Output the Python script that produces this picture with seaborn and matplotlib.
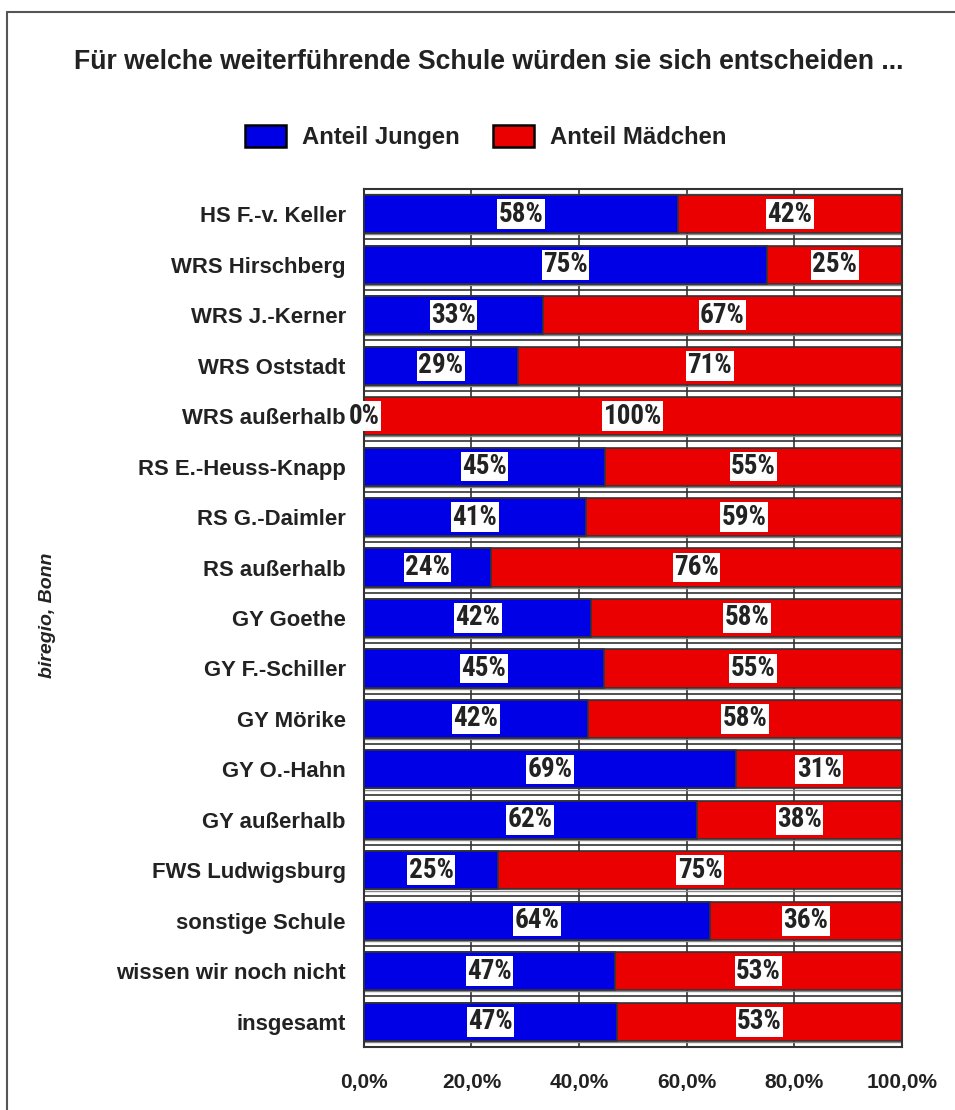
import numpy as np
import pandas as pd
import seaborn as sns
import matplotlib.pyplot as plt
from matplotlib.patches import Patch
from matplotlib.lines import Line2D

# Daten
schulen = ["HS F.-v. Keller", "WRS Hirschberg", "WRS J.-Kerner", "WRS Oststadt",
           "WRS außerhalb", "RS E.-Heuss-Knapp", "RS G.-Daimler", "RS außerhalb",
           "GY Goethe", "GY F.-Schiller", "GY Mörike", "GY O.-Hahn", "GY außerhalb",
           "FWS Ludwigsburg", "sonstige Schule", "wissen wir noch nicht", "insgesamt"]
anteil_jungen = [58.3, 75.0, 33.3, 28.6, 0.0, 44.8, 41.2, 23.7, 42.3, 44.6,
                 41.7, 69.2, 61.9, 25.0, 64.3, 46.6, 47.0]
series_names = ["Anteil Jungen", "Anteil Mädchen"]
x_ticks = [0, 20, 40, 60, 80, 100]
x_ticklabels = ["0,0%", "20,0%", "40,0%", "60,0%", "80,0%", "100,0%"]

blau = "#0000e6"
rot = "#ea0000"
text_col = "#222222"

df = pd.DataFrame({"Schule": schulen, "Jungen": anteil_jungen})
df["Mädchen"] = 100 - df["Jungen"]
df["Gesamt"] = 100.0

sns.set_style("white")
plt.rcParams["font.family"] = ["Liberation Sans", "DejaVu Sans"]

fig = plt.figure(figsize=(9.55, 11.1), dpi=100)
ax = fig.add_axes([0.381, 0.0568, 0.5635, 0.7729])

# Gitter hinter den Balken
n = len(schulen)
for x in x_ticks[1:-1]:
    ax.axvline(x, color="#333333", lw=1.2, zorder=0)
for i in range(n):
    ax.axhline(i + 0.5, color="#333333", lw=1.2, zorder=0)
    ax.axhline(i + 0.4, color="#888888", lw=1.0, zorder=0)
ax.axhline(-0.4, color="#888888", lw=1.0, zorder=0)

# gestapelte Balken: erst Gesamt (rot), dann Jungen (blau) darüber
sns.barplot(data=df, x="Gesamt", y="Schule", color=rot, saturation=1,
            width=0.755, edgecolor="#333333", linewidth=1.2, ax=ax, zorder=2)
sns.barplot(data=df, x="Jungen", y="Schule", color=blau, saturation=1,
            width=0.755, edgecolor="#333333", linewidth=1.2, ax=ax, zorder=3)

# Beschriftungen (schmale Schrift wie im Original)
box = dict(facecolor="white", edgecolor="none", pad=1.0)
lab_font = ["Roboto Condensed", "Archivo Narrow", "Fira Sans Condensed", "Liberation Sans"]
for i, row in df.iterrows():
    j, m = row["Jungen"], row["Mädchen"]
    ax.text(j / 2, i, f"{round(j):.0f}%", ha="center", va="center", fontsize=19.5,
            family=lab_font, fontweight="bold", color=text_col, bbox=box, zorder=5)
    ax.text(j + m / 2, i, f"{round(m):.0f}%", ha="center", va="center", fontsize=19.5,
            family=lab_font, fontweight="bold", color=text_col, bbox=box, zorder=5)

ax.set_xlim(0, 100)
ax.set_ylim(n - 0.5, -0.5)
ax.set_xticks(x_ticks)
ax.set_xticklabels(x_ticklabels, fontsize=15, fontweight="bold", color=text_col)
ax.set_yticks(range(n))
ax.set_yticklabels(schulen, fontsize=15.9, fontweight="bold", color=text_col)
ax.tick_params(axis="both", length=0)
ax.tick_params(axis="x", pad=19)
ax.tick_params(axis="y", pad=13)
ax.set_xlabel("")
ax.set_ylabel("")
for s in ax.spines.values():
    s.set_visible(True)
    s.set_color("#333333")
    s.set_linewidth(1.5)

# Titel und Legende
fig.text(0.5115, 0.944, "Für welche weiterführende Schule würden sie sich entscheiden ...",
         ha="center", va="center", fontsize=19.2, fontweight="bold", color=text_col)
handles = [Patch(facecolor=blau, edgecolor="black", linewidth=1.8),
           Patch(facecolor=rot, edgecolor="black", linewidth=1.8)]
fig.legend(handles, series_names, loc="center", bbox_to_anchor=(0.509, 0.8766), ncol=2,
           frameon=False, prop={"size": 17.2, "weight": "bold"}, handlelength=1.72,
           handleheight=1.09, handletextpad=0.67, columnspacing=1.38, labelcolor=text_col)

fig.text(0.05, 0.446, "biregio, Bonn", rotation=90, ha="center", va="center",
         fontsize=14, fontstyle="italic", fontweight="bold", color=text_col)

# Rahmen (oben und links)
fig.add_artist(Line2D([7 / 955, 1.0], [1 - 12 / 1110] * 2, color="#555555", lw=1.5))
fig.add_artist(Line2D([7 / 955] * 2, [0.0, 1 - 12 / 1110], color="#555555", lw=1.5))

fig.savefig("out.png", dpi=100)
